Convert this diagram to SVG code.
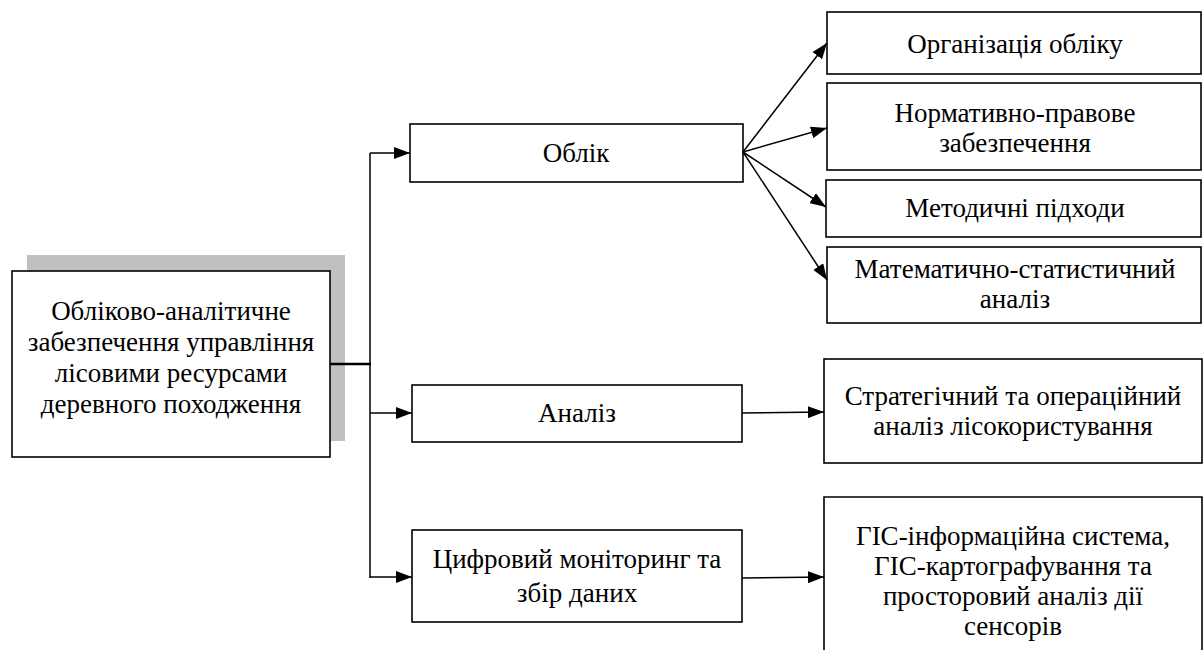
<svg xmlns="http://www.w3.org/2000/svg" width="1203" height="650" viewBox="0 0 1203 650">
<style>
.box{fill:#fff;stroke:#000;stroke-width:1.6}
.ln{fill:none;stroke:#000;stroke-width:1.5}
</style>
<defs>
<marker id="ah" markerUnits="userSpaceOnUse" markerWidth="16" markerHeight="12" viewBox="0 0 16 12" refX="16" refY="6" orient="auto">
<path d="M0,0 L16,6 L0,12 Z" fill="#000"/>
</marker>
</defs>
<g font-family="'Liberation Serif', 'Times New Roman', serif" font-size="27" fill="#000" text-anchor="middle">
<g id="main">
<rect x="27" y="255" width="318" height="186" fill="#c0c0c0"/>
<rect class="box" x="12" y="271" width="318" height="186"/>
<text x="171" y="320">Обліково-аналітичне</text>
<text x="171" y="351">забезпечення управління</text>
<text x="171" y="382">лісовими ресурсами</text>
<text x="171" y="413">деревного походження</text>
</g>
<g id="oblik">
<rect class="box" x="410" y="124" width="333" height="58"/>
<text x="576" y="162">Облік</text>
</g>
<g id="analiz">
<rect class="box" x="412" y="385" width="330" height="57"/>
<text x="577" y="422">Аналіз</text>
</g>
<g id="monitoring">
<rect class="box" x="412" y="530" width="330" height="92"/>
<text x="577" y="568">Цифровий моніторинг та</text>
<text x="577" y="602">збір даних</text>
</g>
<g id="org">
<rect class="box" x="827" y="12" width="374" height="62"/>
<text x="1015" y="53">Організація обліку</text>
</g>
<g id="norm">
<rect class="box" x="827" y="83" width="374" height="87"/>
<text x="1015" y="122">Нормативно-правове</text>
<text x="1015" y="152">забезпечення</text>
</g>
<g id="method">
<rect class="box" x="826" y="180" width="375" height="57"/>
<text x="1015" y="217">Методичні підходи</text>
</g>
<g id="math">
<rect class="box" x="827" y="247" width="374" height="76"/>
<text x="1015" y="278">Математично-статистичний</text>
<text x="1015" y="308">аналіз</text>
</g>
<g id="strat">
<rect class="box" x="824" y="359" width="378" height="104"/>
<text x="1013" y="405">Стратегічний та операційний</text>
<text x="1013" y="435">аналіз лісокористування</text>
</g>
<g id="gis">
<path class="box" d="M824,652 L824,497 L1202,497 L1202,652"/>
<text x="1013" y="545">ГІС-інформаційна система,</text>
<text x="1013" y="575">ГІС-картографування та</text>
<text x="1013" y="605">просторовий аналіз дії</text>
<text x="1013" y="635">сенсорів</text>
</g>
</g>
<g id="connectors">
<path d="M330,364 L371,364" fill="none" stroke="#000" stroke-width="2.6"/>
<path class="ln" d="M370,153 L370,578"/>
<path class="ln" d="M370,153 L410,153" marker-end="url(#ah)"/>
<path class="ln" d="M370,413 L412,413" marker-end="url(#ah)"/>
<path class="ln" d="M370,577 L412,577" marker-end="url(#ah)"/>
<path class="ln" d="M743,152 L827,43" marker-end="url(#ah)"/>
<path class="ln" d="M743,152 L827,128" marker-end="url(#ah)"/>
<path class="ln" d="M743,152 L826,207" marker-end="url(#ah)"/>
<path class="ln" d="M743,152 L827,280" marker-end="url(#ah)"/>
<path class="ln" d="M742,413 L824,412" marker-end="url(#ah)"/>
<path class="ln" d="M742,578 L824,577" marker-end="url(#ah)"/>
</g>
</svg>
